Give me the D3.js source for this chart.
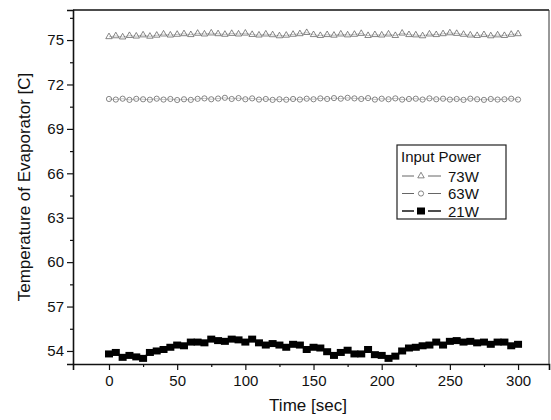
<!DOCTYPE html>
<html>
<head>
<meta charset="utf-8">
<script src="https://cdn.jsdelivr.net/npm/d3@7"></script>
<style>
  body { margin: 0; background: #fff; }
  text { font-family: "Liberation Sans", Arial, sans-serif; fill: #111; }
</style>
</head>
<body>
<div id="chart"></div>
<script>
// time axis (every 5 sec)
var times = d3.range(0, 301, 5);

var p73 = [75.22, 75.28, 75.20, 75.30, 75.26, 75.34, 75.25, 75.32, 75.40, 75.33, 75.38,
           75.42, 75.36, 75.45, 75.40, 75.47, 75.42, 75.38, 75.44, 75.40, 75.46,
           75.37, 75.33, 75.40, 75.35, 75.28, 75.32, 75.38, 75.42, 75.50, 75.36,
           75.30, 75.36, 75.32, 75.40, 75.34, 75.38, 75.44, 75.30, 75.36, 75.33,
           75.40, 75.30, 75.46, 75.36, 75.34, 75.28, 75.40, 75.36, 75.42, 75.48,
           75.44, 75.38, 75.33, 75.30, 75.36, 75.28, 75.34, 75.30, 75.38, 75.42];
var p63 = [71.02, 70.98, 71.04, 70.96, 71.03, 71.00, 70.97, 71.04, 70.98, 71.02, 70.95,
           71.00, 70.96, 71.03, 71.06, 71.00, 71.05, 71.10, 71.02, 71.08, 71.00,
           71.06, 70.98, 71.02, 70.96, 71.00, 70.97, 71.02, 70.98, 71.04, 71.00,
           71.06, 71.02, 71.08, 71.04, 71.10, 71.06, 71.02, 71.08, 70.98, 71.04,
           71.00, 71.06, 70.98, 71.02, 71.04, 70.98, 71.06, 71.00, 71.04, 70.98,
           71.02, 70.96, 71.04, 71.00, 70.96, 71.02, 70.98, 71.00, 71.04, 70.98];
var p21 = [53.80, 53.90, 53.57, 53.70, 53.60, 53.50, 53.90, 54.00, 54.10, 54.25, 54.40,
           54.35, 54.60, 54.60, 54.55, 54.80, 54.70, 54.65, 54.80, 54.75, 54.60,
           54.80, 54.55, 54.40, 54.50, 54.40, 54.25, 54.45, 54.40, 54.10, 54.25,
           54.20, 53.95, 53.70, 53.90, 54.05, 53.80, 53.80, 54.10, 53.75, 53.70,
           53.50, 53.65, 54.00, 54.20, 54.25, 54.35, 54.40, 54.60, 54.40, 54.65,
           54.70, 54.60, 54.65, 54.55, 54.60, 54.45, 54.60, 54.60, 54.35, 54.45];

var xTicks = [0, 50, 100, 150, 200, 250, 300];
var yTicks = [54, 57, 60, 63, 66, 69, 72, 75];
var legendLabels = ["73W", "63W", "21W"];

var svgWidth = 551;
var svgHeight = 420;
var margin = { top: 10, right: 2, bottom: 56, left: 73 };
var chartWidth = svgWidth - margin.left - margin.right;
var chartHeight = svgHeight - margin.top - margin.bottom;

var svg = d3.select("#chart").append("svg")
    .attr("width", svgWidth)
    .attr("height", svgHeight);

var chartGroup = svg.append("g")
    .attr("transform", `translate(${margin.left}, ${margin.top})`);

var x = d3.scaleLinear().domain([-26.4, 322.7]).range([0, chartWidth]);
var y = d3.scaleLinear().domain([53.12, 77.03]).range([chartHeight, 0]);

// minor ticks first
chartGroup.append("g")
    .attr("transform", `translate(0, ${chartHeight})`)
    .call(d3.axisBottom(x).tickValues(d3.range(25, 300, 50)).tickSize(3).tickFormat(""))
    .call(g => g.select(".domain").remove());
chartGroup.append("g")
    .call(d3.axisLeft(y).tickValues(d3.range(55.5, 77, 3)).tickSize(3).tickFormat(""))
    .call(g => g.select(".domain").remove());

chartGroup.append("g")
    .attr("transform", `translate(0, ${chartHeight})`)
    .call(d3.axisBottom(x).tickValues(xTicks).tickSize(6).tickPadding(5));
chartGroup.append("g")
    .call(d3.axisLeft(y).tickValues(yTicks).tickSize(6).tickPadding(3));

chartGroup.selectAll(".tick text").style("font-size", "15px").style("fill", "#111");
chartGroup.selectAll(".tick line").attr("stroke", "#111").attr("stroke-width", 1.2);
chartGroup.selectAll(".domain").attr("stroke", "#111").attr("stroke-width", 1.6);

// top and right frame
chartGroup.append("line").attr("x1", 0).attr("x2", chartWidth).attr("y1", 0).attr("y2", 0)
    .attr("stroke", "#111").attr("stroke-width", 1.6);
chartGroup.append("line").attr("x1", chartWidth).attr("x2", chartWidth).attr("y1", 0).attr("y2", chartHeight)
    .attr("stroke", "#333").attr("stroke-width", 1);

var line = d3.line().x((d, i) => x(times[i])).y(d => y(d));

// 73W open triangles
chartGroup.append("path").datum(p73)
    .attr("d", line).attr("fill", "none").attr("stroke", "#888").attr("stroke-width", 0.5);
chartGroup.selectAll(".tri").data(p73).enter().append("path")
    .attr("class", "tri")
    .attr("d", d3.symbol().type(d3.symbolTriangle).size(18))
    .attr("transform", (d, i) => `translate(${x(times[i])}, ${y(d)})`)
    .attr("fill", "none").attr("stroke", "#555").attr("stroke-width", 0.7);

// 63W open circles
chartGroup.append("path").datum(p63)
    .attr("d", line).attr("fill", "none").attr("stroke", "#888").attr("stroke-width", 0.5);
chartGroup.selectAll(".circ").data(p63).enter().append("circle")
    .attr("class", "circ")
    .attr("cx", (d, i) => x(times[i]))
    .attr("cy", d => y(d))
    .attr("r", 2.6)
    .attr("fill", "none").attr("stroke", "#555").attr("stroke-width", 0.7);

// 21W filled squares
chartGroup.append("path").datum(p21)
    .attr("d", line).attr("fill", "none").attr("stroke", "#000").attr("stroke-width", 2);
chartGroup.selectAll(".sq").data(p21).enter().append("rect")
    .attr("class", "sq")
    .attr("x", (d, i) => x(times[i]) - 4)
    .attr("y", d => y(d) - 3.5)
    .attr("width", 8).attr("height", 7)
    .attr("fill", "#000");

// legend
var legend = svg.append("g").attr("transform", "translate(397, 145)");
legend.append("rect").attr("width", 109).attr("height", 74)
    .attr("fill", "#fff").attr("stroke", "#222").attr("stroke-width", 1.2);
legend.append("text").attr("x", 4).attr("y", 17).style("font-size", "15px").text("Input Power");
legendLabels.forEach(function(lbl, i) {
    var ly = 31 + i * 17.5;
    var g = legend.append("g").attr("transform", `translate(0, ${ly})`);
    var col = i == 2 ? "#000" : "#555";
    var w = i == 2 ? 1.4 : 0.9;
    g.append("line").attr("x1", 5).attr("x2", 17).attr("y1", 0).attr("y2", 0)
        .attr("stroke", col).attr("stroke-width", w);
    g.append("line").attr("x1", 31).attr("x2", 44).attr("y1", 0).attr("y2", 0)
        .attr("stroke", col).attr("stroke-width", w);
    if (i == 0) {
        g.append("path").attr("d", d3.symbol().type(d3.symbolTriangle).size(18))
            .attr("transform", "translate(24, 0)")
            .attr("fill", "#fff").attr("stroke", "#555").attr("stroke-width", 0.7);
    } else if (i == 1) {
        g.append("circle").attr("cx", 24).attr("cy", 0).attr("r", 2.6)
            .attr("fill", "#fff").attr("stroke", "#555").attr("stroke-width", 0.7);
    } else {
        g.append("rect").attr("x", 20).attr("y", -3.5).attr("width", 8).attr("height", 7).attr("fill", "#000");
    }
    g.append("text").attr("x", 51).attr("y", 5.5).style("font-size", "15px").text(lbl);
});

// axis titles
svg.append("text")
    .attr("x", 308)
    .attr("y", 411)
    .attr("text-anchor", "middle")
    .style("font-size", "17px")
    .text("Time [sec]");

svg.append("text")
    .attr("transform", `translate(30, ${margin.top + chartHeight / 2}) rotate(-90)`)
    .attr("text-anchor", "middle")
    .style("font-size", "17px")
    .text("Temperature of Evaporator [C]");
</script>
</body>
</html>
